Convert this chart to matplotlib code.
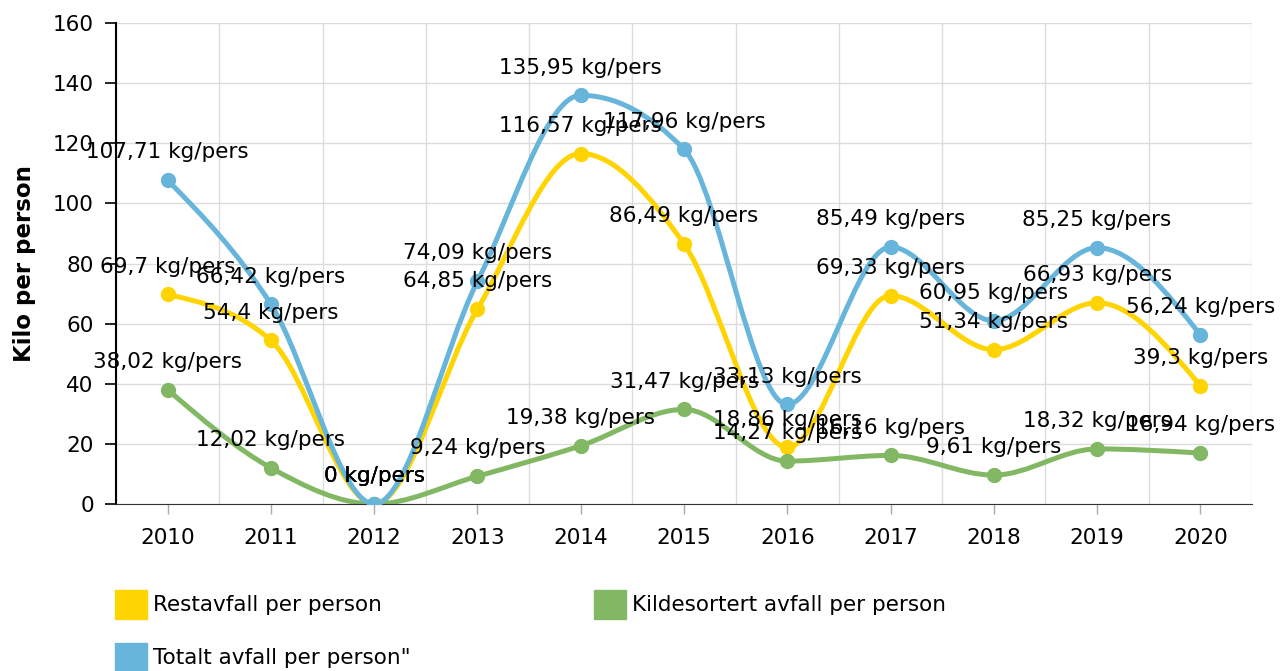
import numpy as np
import matplotlib
matplotlib.use('Agg')
import matplotlib.pyplot as plt
from matplotlib.path import Path
from matplotlib.patches import PathPatch, Patch

# data
years = [2010, 2011, 2012, 2013, 2014, 2015, 2016, 2017, 2018, 2019, 2020]
restavfall = [69.7, 54.4, 0, 64.85, 116.57, 86.49, 18.86, 69.33, 51.34, 66.93, 39.3]
kildesortert = [38.02, 12.02, 0, 9.24, 19.38, 31.47, 14.27, 16.16, 9.61, 18.32, 16.94]
totalt = [107.71, 66.42, 0, 74.09, 135.95, 117.96, 33.13, 85.49, 60.95, 85.25, 56.24]

names = ['Restavfall per person', 'Kildesortert avfall per person', 'Totalt avfall per person"']
colors = ['#ffd400', '#82b864', '#68b5dc']


def monotone_path(x, y):
    # monotone-x cubic bezier (same idea as d3.curveMonotoneX)
    x = np.asarray(x, float)
    y = np.asarray(y, float)
    n = len(x)
    h = np.diff(x)
    s = np.diff(y) / h
    t = np.zeros(n)
    for i in range(1, n - 1):
        s0, s1 = s[i - 1], s[i]
        p = (s0 * h[i] + s1 * h[i - 1]) / (h[i - 1] + h[i])
        t[i] = (np.sign(s0) + np.sign(s1)) * min(abs(s0), abs(s1), 0.5 * abs(p))
    t[0] = (3 * s[0] - t[1]) / 2
    t[-1] = (3 * s[-1] - t[-2]) / 2
    verts = [(x[0], y[0])]
    codes = [Path.MOVETO]
    for i in range(n - 1):
        dx = h[i] / 3
        verts += [(x[i] + dx, y[i] + dx * t[i]),
                  (x[i + 1] - dx, y[i + 1] - dx * t[i + 1]),
                  (x[i + 1], y[i + 1])]
        codes += [Path.CURVE4] * 3
    return Path(verts, codes)


fs = 15.5

fig = plt.figure(figsize=(12.8, 6.71), dpi=100)
ax = fig.add_axes([116 / 1280, 1 - 504 / 671, 1136 / 1280, 481 / 671])

all_series = [restavfall, kildesortert, totalt]
for vals, c in zip(all_series, colors):
    ax.add_patch(PathPatch(monotone_path(years, vals), facecolor='none',
                           edgecolor=c, lw=3.6, capstyle='round', joinstyle='round'))
    ax.plot(years, vals, 'o', ms=10, color=c, zorder=3)

for vals in all_series:
    for x, v in zip(years, vals):
        lbl = (f"{v:g}" + " kg/pers").replace('.', ',')
        ax.annotate(lbl, (x, v), xytext=(0, 20), textcoords='offset points',
                    ha='center', va='center', fontsize=fs, color='black', zorder=5)

ax.set_xlim(2009.5, 2020.5)
ax.set_ylim(0, 160)
ax.set_xticks(years)
ax.set_xticklabels([str(y) for y in years])
ax.set_xticks(np.arange(2009.5, 2021, 1), minor=True)
ax.set_yticks(np.arange(0, 161, 20))

ax.grid(which='minor', axis='x', color='#dcdcdc', lw=1)
ax.grid(which='major', axis='y', color='#dcdcdc', lw=1)
ax.set_axisbelow(True)

ax.tick_params(axis='x', which='major', length=7, width=1, color='#aaaaaa', pad=10, labelsize=fs)
ax.tick_params(axis='x', which='minor', length=0)
ax.tick_params(axis='y', length=8, width=1.2, color='black', pad=8, labelsize=fs)

for sp in ['top', 'right']:
    ax.spines[sp].set_visible(False)
ax.spines['left'].set_linewidth(1.5)
ax.spines['bottom'].set_color('#333333')

ax.set_ylabel('Kilo per person', fontsize=16.5, fontweight='bold')
ax.yaxis.set_label_coords(-0.070, 0.5)

handles = [Patch(color=colors[0], label=names[0]),
           Patch(color=colors[2], label=names[2]),
           Patch(color=colors[1], label=names[1])]
fig.legend(handles=handles, ncol=2, loc='upper left', bbox_to_anchor=(115 / 1280, 1 - 590 / 671),
           frameon=False, fontsize=fs, handlelength=1.49, handleheight=1.68,
           handletextpad=0.28, columnspacing=8.5, labelspacing=1.12,
           borderaxespad=0, borderpad=0)

fig.savefig('out.png', dpi=100)
